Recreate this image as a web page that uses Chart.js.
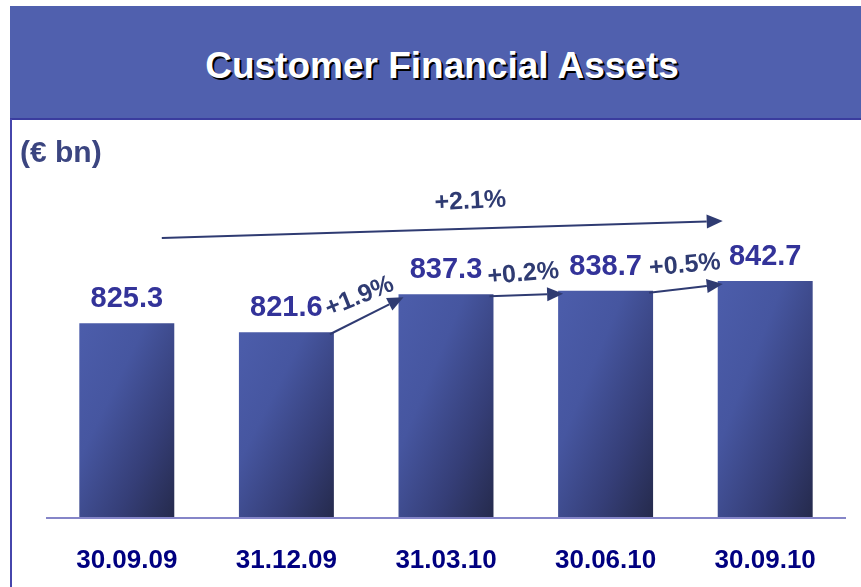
<!DOCTYPE html>
<html>
<head>
<meta charset="utf-8">
<script src="https://cdn.jsdelivr.net/npm/chart.js@4.4.0/dist/chart.umd.min.js"></script>
<style>
  html, body { margin: 0; padding: 0; background: #ffffff; }
  body { width: 861px; height: 587px; position: relative; overflow: hidden; font-family: "Liberation Sans", Arial, sans-serif; }
  #banner { position: absolute; left: 10px; top: 6px; width: 851px; height: 112px; background: #5060ae; border-bottom: 2px solid #3a3c9e; box-sizing: content-box; }
  #banner h1 { margin: 0; position: absolute; left: 13px; right: 0; top: 40px; text-align: center; color: #ffffff; font: bold 37px "Liberation Sans", Arial, sans-serif; line-height: 40px; text-shadow: 2px 2px 0 #000000; }
  #leftline { position: absolute; left: 10px; top: 119px; width: 2px; height: 468px; background: #4646ac; }
  #unit { position: absolute; left: 20px; top: 134px; color: #3b4580; font: bold 30px "Liberation Sans", Arial, sans-serif; line-height: 36px; }
  #wrap { position: absolute; left: 0; top: 0; width: 861px; height: 587px; }
</style>
</head>
<body>
<div id="wrap"><canvas id="c" width="861" height="587"></canvas></div>
<div id="banner"><h1>Customer Financial Assets</h1></div>
<div id="leftline"></div>
<div id="unit">(€ bn)</div>
<script>
// ---- data ----
const categories = ['30.09.09', '31.12.09', '31.03.10', '30.06.10', '30.09.10'];
const assetValues = [825.3, 821.6, 837.3, 838.7, 842.7];
const stepChangeLabels = ['+1.9%', '+0.2%', '+0.5%'];   // change between consecutive quarters
const stepChangeFrom = [1, 2, 3];                        // index of the starting bar
const totalChangeLabel = '+2.1%';

const BAR_PCT = 0.595;

function barGradient(c) {
  const chart = c.chart;
  const { ctx, chartArea, scales } = chart;
  if (!chartArea || !scales.x || !scales.y || c.dataIndex === undefined) return '#4757a0';
  const n = categories.length;
  const w = scales.x.width / n * BAR_PCT;
  const x = scales.x.getPixelForValue(c.dataIndex);
  const top = scales.y.getPixelForValue(c.raw);
  const h = chartArea.bottom - top;
  const left = x - w / 2;
  const d = h * h + w * w;
  const ax = 2 * w * h * h / d, by = 2 * w * w * h / d;
  const g = ctx.createLinearGradient(left, top, left + ax, top + by);
  g.addColorStop(0, '#4c5dab');
  g.addColorStop(0.35, '#4656a0');
  g.addColorStop(0.7, '#353e77');
  g.addColorStop(1, '#252a4c');
  return g;
}

function drawArrow(ctx, x1, y1, x2, y2, color) {
  const ang = Math.atan2(y2 - y1, x2 - x1);
  const L = 16, W = 7;
  const bx = x2 - L * Math.cos(ang), by = y2 - L * Math.sin(ang);
  ctx.save();
  ctx.strokeStyle = color; ctx.fillStyle = color; ctx.lineWidth = 2;
  ctx.beginPath(); ctx.moveTo(x1, y1); ctx.lineTo(bx, by); ctx.stroke();
  ctx.beginPath();
  ctx.moveTo(x2, y2);
  ctx.lineTo(bx + W * Math.sin(ang), by - W * Math.cos(ang));
  ctx.lineTo(bx - W * Math.sin(ang), by + W * Math.cos(ang));
  ctx.closePath(); ctx.fill();
  ctx.restore();
}

function drawRotText(ctx, text, x, y, angDeg, font, color) {
  ctx.save();
  ctx.translate(x, y);
  ctx.rotate(angDeg * Math.PI / 180);
  ctx.font = font; ctx.fillStyle = color;
  ctx.textAlign = 'center'; ctx.textBaseline = 'middle';
  ctx.fillText(text, 0, 0);
  ctx.restore();
}

const annotations = {
  id: 'annotations',
  afterDatasetsDraw(chart) {
    const ctx = chart.ctx;
    const meta = chart.getDatasetMeta(0);
    const bars = meta.data;
    const data = chart.data.datasets[0].data;
    // value labels
    ctx.save();
    ctx.font = 'bold 29px "Liberation Sans", Arial, sans-serif';
    ctx.fillStyle = '#333399';
    ctx.textAlign = 'center';
    ctx.textBaseline = 'alphabetic';
    bars.forEach((b, i) => {
      ctx.fillText(data[i].toFixed(1), b.x, b.y - 16);
    });
    ctx.restore();

    const arrowColor = '#2f3b72';
    const pctFont = 'bold 25px "Liberation Sans", Arial, sans-serif';
    const rot = [-22, -5, -5];
    const offs = [[-7, -19], [-3, -21], [-1, -23]];
    stepChangeFrom.forEach((from, k) => {
      const a = bars[from], b = bars[from + 1];
      const x1 = a.x + a.width / 2 - 4, y1 = a.y + 2;
      const x2 = b.x - b.width / 2 + 5, y2 = b.y + 3;
      drawArrow(ctx, x1, y1, x2, y2, arrowColor);
      const mx = (x1 + x2) / 2, my = (y1 + y2) / 2;
      drawRotText(ctx, stepChangeLabels[k], mx + offs[k][0], my + offs[k][1], rot[k], pctFont, arrowColor);
    });

    // overall arrow from first to last period
    const f = bars[0], l = bars[bars.length - 1];
    const ca = chart.chartArea;
    const sx = f.x + 35, sy = ca.top + 108;
    const ex = l.x - l.width / 2 + 5, ey = ca.top + 91;
    drawArrow(ctx, sx, sy, ex, ey, arrowColor);
    drawRotText(ctx, totalChangeLabel, (sx + ex) / 2 + 28, (sy + ey) / 2 - 28, -3, pctFont, arrowColor);
  }
};

new Chart(document.getElementById('c'), {
  type: 'bar',
  data: {
    labels: categories,
    datasets: [{
      data: assetValues,
      backgroundColor: barGradient,
      borderWidth: 0,
      categoryPercentage: 1,
      barPercentage: BAR_PCT
    }]
  },
  options: {
    responsive: false,
    animation: false,
    layout: { padding: { left: 47, right: 16, top: 130, bottom: 11 } },
    plugins: { legend: { display: false }, tooltip: { enabled: false }, title: { display: false } },
    scales: {
      x: {
        grid: { display: false, drawTicks: false },
        border: { display: true, color: '#8585c8', width: 2, z: 1 },
        ticks: { color: '#000080', font: { family: '"Liberation Sans", Arial, sans-serif', size: 26, weight: 'bold' }, padding: 27 },
        afterFit: (scale) => { scale.height = 58; }
      },
      y: { display: false, min: 745, max: 905 }
    }
  },
  plugins: [annotations]
});
</script>
</body>
</html>
